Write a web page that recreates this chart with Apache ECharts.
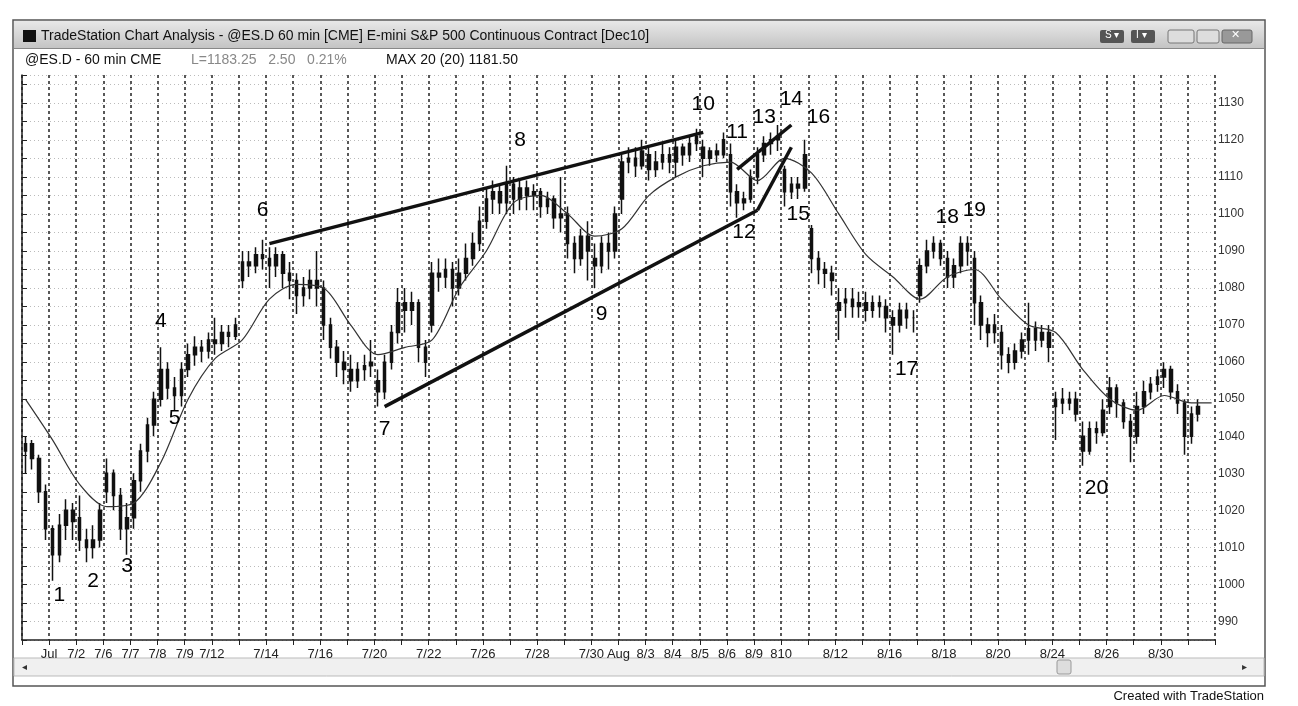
<!DOCTYPE html>
<html><head><meta charset="utf-8">
<script src="https://cdn.jsdelivr.net/npm/echarts@6/dist/echarts.min.js"></script>
<style>html,body{margin:0;padding:0;background:#fff}#c{width:1298px;height:706px}</style>
</head><body><div id="c"></div>
<script>
// hourly-ish bars, 4 per trading session: [open, close, low, high]
const bars = [
[1036,1038,1030,1040],[1038,1034,1031,1039],[1034,1025,1022,1035],[1025,1015,1012,1027],
[1015,1008,1001,1016],[1008,1016,1006,1019],[1016,1020,1012,1023],[1020,1017,1012,1022],
[1018,1012,1009,1024],[1012,1010,1006,1015],[1010,1012,1007,1016],[1012,1020,1010,1022],
[1025,1030,1022,1034],[1030,1024,1020,1031],[1024,1015,1012,1026],[1015,1018,1008,1022],
[1018,1028,1015,1030],[1028,1036,1025,1038],[1036,1043,1033,1045],[1043,1050,1040,1052],
[1050,1058,1048,1064],[1058,1053,1050,1060],[1053,1051,1047,1056],[1051,1058,1048,1060],
[1058,1062,1056,1065],[1062,1064,1059,1067],[1064,1063,1060,1066],[1063,1066,1061,1068],
[1066,1065,1062,1072],[1065,1068,1063,1070],[1068,1067,1064,1070],[1067,1070,1066,1072],
[1082,1087,1080,1090],[1087,1086,1083,1090],[1086,1089,1084,1091],[1089,1088,1085,1093],
[1088,1086,1080,1091],[1086,1089,1083,1091],[1089,1084,1080,1090],[1084,1082,1077,1087],
[1082,1078,1073,1084],[1078,1080,1075,1083],[1080,1082,1077,1085],[1082,1080,1075,1090],
[1080,1070,1066,1082],[1070,1064,1061,1072],[1064,1060,1056,1066],[1060,1058,1054,1063],
[1058,1055,1052,1062],[1055,1058,1053,1060],[1058,1059,1055,1062],[1059,1060,1056,1066],
[1055,1052,1048,1058],[1052,1060,1050,1062],[1060,1068,1058,1070],[1068,1076,1065,1080],
[1076,1074,1068,1080],[1074,1076,1070,1079],[1076,1064,1060,1077],[1064,1060,1056,1066],
[1070,1084,1068,1087],[1084,1083,1079,1088],[1083,1085,1080,1088],[1085,1080,1075,1087],
[1080,1084,1078,1088],[1084,1088,1082,1092],[1088,1092,1086,1095],[1092,1098,1090,1102],
[1098,1104,1096,1107],[1104,1106,1100,1109],[1106,1103,1100,1108],[1103,1108,1100,1113],
[1108,1104,1100,1110],[1104,1107,1101,1109],[1107,1105,1101,1109],[1105,1106,1101,1108],
[1106,1102,1099,1107],[1102,1104,1100,1106],[1104,1099,1096,1105],[1099,1100,1095,1110],
[1100,1092,1088,1102],[1092,1088,1084,1094],[1088,1094,1086,1096],[1094,1090,1082,1098],
[1088,1086,1080,1092],[1086,1092,1084,1094],[1092,1090,1085,1095],[1090,1100,1088,1102],
[1104,1114,1100,1116],[1114,1115,1111,1118],[1115,1113,1110,1118],[1113,1117,1112,1120],
[1116,1112,1109,1118],[1112,1114,1110,1117],[1114,1116,1112,1119],[1116,1114,1111,1118],
[1114,1118,1110,1120],[1118,1116,1113,1119],[1116,1119,1114,1121],[1119,1121,1117,1123],
[1118,1115,1110,1120],[1115,1117,1113,1118],[1117,1116,1114,1119],[1116,1120,1115,1122],
[1116,1106,1102,1119],[1106,1103,1099,1108],[1103,1104,1101,1106],[1104,1110,1103,1112],
[1110,1116,1108,1118],[1116,1119,1114,1121],[1119,1120,1116,1122],[1120,1121,1117,1124],
[1112,1106,1102,1113],[1106,1108,1104,1110],[1108,1107,1104,1110],[1107,1116,1106,1120],
[1096,1088,1084,1097],[1088,1085,1081,1090],[1085,1084,1080,1087],[1084,1082,1078,1086],
[1074,1076,1066,1080],[1076,1077,1072,1080],[1077,1075,1072,1080],[1075,1076,1072,1079],
[1076,1074,1071,1079],[1074,1076,1072,1078],[1076,1075,1072,1078],[1075,1072,1068,1077],
[1072,1070,1062,1074],[1070,1074,1068,1076],[1074,1072,1069,1076],[1072,1072,1068,1074],
[1078,1086,1076,1088],[1086,1090,1084,1093],[1090,1092,1088,1094],[1092,1088,1086,1093],
[1088,1083,1080,1090],[1083,1086,1080,1088],[1086,1092,1084,1094],[1092,1090,1086,1094],
[1088,1076,1070,1090],[1076,1070,1066,1078],[1070,1068,1064,1072],[1068,1070,1065,1073],
[1068,1062,1058,1070],[1062,1060,1057,1064],[1060,1063,1058,1065],[1063,1066,1061,1068],
[1066,1069,1062,1076],[1069,1066,1063,1071],[1066,1068,1064,1070],[1068,1064,1060,1070],
[1048,1050,1039,1052],[1050,1049,1046,1053],[1049,1050,1047,1052],[1050,1046,1044,1052],
[1040,1036,1032,1044],[1036,1042,1035,1044],[1042,1041,1038,1044],[1041,1047,1040,1050],
[1048,1053,1046,1056],[1053,1049,1045,1054],[1049,1044,1042,1050],[1044,1040,1033,1046],
[1040,1048,1038,1052],[1048,1052,1046,1055],[1052,1054,1050,1056],[1054,1056,1052,1058],
[1056,1058,1053,1060],[1058,1052,1050,1059],[1052,1049,1046,1054],[1049,1040,1035,1050],
[1040,1046,1038,1048],[1046,1048,1044,1050],'-','-'
];
// MAX 20 line, read at each session start (bar index = 4*day)
const maValues = [1050,1039,1027,1021,1022,1033,1050,1061,1066,1077,1081,1080,1070,1062,1064,1066,
1080,1090,1103,1105,1100,1094,1096,1105,1110,1113,1114,1109,1115,1111,1100,1089,1083,1077,1083,1085,
1077,1070,1068,1058,1050,1047,1051,1049];
const dayLabels = ['','Jul','7/2','7/6','7/7','7/8','7/9','7/12','','7/14','','7/16','','7/20','','7/22','',
'7/26','','7/28','','7/30','Aug','8/3','8/4','8/5','8/6','8/9','810','','8/12','','8/16','','8/18','','8/20',
'','8/24','','8/26','','8/30','',''];
const yTicks = [990,1000,1010,1020,1030,1040,1050,1060,1070,1080,1090,1100,1110,1120,1130];
// trend lines [barIndex, price]
const upperLine = [[36,1092],[100,1122]];
const lowerLine = [[52.5,1048],[107.5,1101]];
const wedgeLow = [[107.5,1101],[113,1118]];
const wedgeHigh = [[105,1112],[113,1124]];
// wave labels [barIndex, price, text]
const waveLabels = [[4.9,997,'1'],[9.7,1001,'2'],[15,1005,'3'],[20.4,1071,'4'],[22,1045,'5'],[35.4,1101,'6'],
[53.4,1042,'7'],[73,1120,'8'],[84.7,1073,'9'],[100,1129.5,'10'],[105.3,1122,'11'],[106.2,1095,'12'],
[108.8,1126,'13'],[112.5,1131,'14'],[113.6,1100,'15'],[116.5,1126,'16'],[129.8,1058,'17'],[135.8,1099,'18'],
[139.8,1101,'19'],[158,1026,'20']];

const cats = bars.map((b,i)=>i);
const maData = cats.map(i => (i%4===0 && maValues[i/4]!==undefined) ? maValues[i/4] : null);
maData[bars.length-1] = maValues[maValues.length-1];
const F = 'Liberation Sans, Arial, sans-serif';
const chart = echarts.init(document.getElementById('c'));
const tl = d => ({type:'line',data:d,xAxisIndex:0,yAxisIndex:0,symbol:'none',lineStyle:{color:'#111',width:3.5},z:5,animation:false});
chart.setOption({
  animation:false,
  grid:{left:22,right:83,top:75,bottom:66},
  xAxis:[
    {type:'category',data:cats,show:false,boundaryGap:true},
    {type:'value',min:0,max:176,interval:4,position:'bottom',
      axisLine:{show:true,lineStyle:{color:'#222',width:1.5}},
      axisTick:{show:true,length:5,lineStyle:{color:'#222'}},
      axisLabel:{color:'#222',fontSize:13,fontFamily:F,margin:8,formatter:v=>dayLabels[v/4]||''},
      splitLine:{show:true,lineStyle:{color:'#222',type:[3,3],width:1.5}}}
  ],
  yAxis:{type:'value',position:'right',min:985,max:1137.5,interval:5,
    axisLine:{show:true,lineStyle:{color:'#222',width:1.5}},
    axisTick:{show:true,length:5,lineStyle:{color:'#222'}},
    axisLabel:{color:'#333',fontSize:12,fontFamily:F,margin:3,formatter:v=>yTicks.includes(v)?String(v):''},
    splitLine:{show:true,lineStyle:{color:'#bbb',type:[1,3],width:1}}},
  series:[
    {type:'candlestick',data:bars,barWidth:3,itemStyle:{color:'#111',color0:'#111',borderColor:'#111',borderColor0:'#111',borderWidth:1.5},z:3},
    {type:'line',data:maData,connectNulls:true,symbol:'none',smooth:0.3,lineStyle:{color:'#333',width:1.2},z:4},
    tl(upperLine),tl(lowerLine),tl(wedgeLow),tl(wedgeHigh),
    {type:'scatter',data:waveLabels.map(w=>[w[0],w[1]]),symbolSize:1,itemStyle:{opacity:0},z:6,
      label:{show:true,position:'inside',formatter:p=>waveLabels[p.dataIndex][2],fontSize:21,fontFamily:F,color:'#000',opacity:1,textBorderWidth:0}}
  ],
  graphic:[
    {type:'rect',shape:{x:13,y:20,width:1252,height:666},style:{fill:'none',stroke:'#555',lineWidth:1.5},z:-1},
    {type:'rect',shape:{x:14,y:21,width:1250,height:27},style:{fill:new echarts.graphic.LinearGradient(0,0,0,1,[{offset:0,color:'#e8e8e8'},{offset:1,color:'#c4c4c4'}])}},
    {type:'rect',shape:{x:23,y:30,width:13,height:12},style:{fill:'#111'}},
    {type:'text',x:41,y:29,style:{text:'TradeStation Chart Analysis - @ES.D 60 min [CME] E-mini S&P 500 Continuous Contract [Dec10]',font:'14px '+F,fill:'#111'}},
    {type:'rect',shape:{x:1100,y:30,width:24,height:13,r:2},style:{fill:'#555'}},
    {type:'text',x:1105,y:30,style:{text:'S ▾',font:'10px '+F,fill:'#fff'}},
    {type:'rect',shape:{x:1131,y:30,width:24,height:13,r:2},style:{fill:'#555'}},
    {type:'text',x:1136,y:30,style:{text:'I ▾',font:'10px '+F,fill:'#fff'}},
    {type:'rect',shape:{x:1168,y:30,width:26,height:13,r:2},style:{fill:'#ddd',stroke:'#777'}},
    {type:'rect',shape:{x:1197,y:30,width:22,height:13,r:2},style:{fill:'#ddd',stroke:'#777'}},
    {type:'rect',shape:{x:1222,y:30,width:30,height:13,r:2},style:{fill:'#999',stroke:'#666'}},
    {type:'text',x:1231,y:29,style:{text:'✕',font:'11px '+F,fill:'#fff'}},
    {type:'rect',shape:{x:14,y:48,width:1250,height:1},style:{fill:'#888'}},
    {type:'text',x:25,y:53,style:{text:'@ES.D - 60 min CME',font:'14px '+F,fill:'#111'}},
    {type:'text',x:191,y:53,style:{text:'L=1183.25   2.50   0.21%',font:'14px '+F,fill:'#888'}},
    {type:'text',x:386,y:53,style:{text:'MAX 20 (20) 1181.50',font:'14px '+F,fill:'#111'}},
    {type:'rect',shape:{x:14,y:658,width:1250,height:18},style:{fill:'#f0f0f0',stroke:'#bbb'}},
    {type:'rect',shape:{x:1057,y:660,width:14,height:14,r:2},style:{fill:'#ddd',stroke:'#999'}},
    {type:'text',x:22,y:662,style:{text:'◂',font:'10px '+F,fill:'#333'}},
    {type:'text',x:1242,y:662,style:{text:'▸',font:'10px '+F,fill:'#333'}},
    {type:'text',x:1264,y:690,style:{text:'Created with TradeStation',font:'13px '+F,fill:'#111',align:'right'}}
  ]
});
</script></body></html>
